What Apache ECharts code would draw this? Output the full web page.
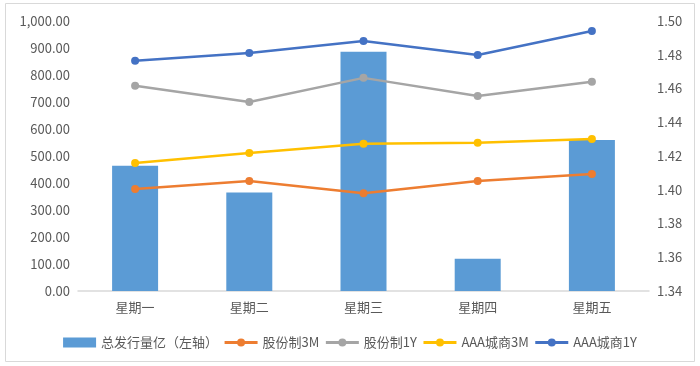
<!DOCTYPE html>
<html>
<head>
    <meta charset="utf-8">
    <script src="https://cdn.jsdelivr.net/npm/echarts@6/dist/echarts.min.js"></script>
    <style>
        html, body { margin: 0; padding: 0; background: #fff; }
    </style>
</head>
<body>

<div id="main" style="width: 700px;height:366px;"></div>

<script type="text/javascript">
var days = ['星期一', '星期二', '星期三', '星期四', '星期五'];
var totalIssue = [464, 365, 886, 119, 559];
var gufen3M = [1.4005, 1.4052, 1.3979, 1.4052, 1.4094];
var gufen1Y = [1.4616, 1.4520, 1.4663, 1.4556, 1.4640];
var aaa3M = [1.4159, 1.4218, 1.4272, 1.4278, 1.4301];
var aaa1Y = [1.4764, 1.4811, 1.4882, 1.4799, 1.4941];

var fontFam = '"Noto Sans CJK SC", "Liberation Sans", sans-serif';

function lineSeries(name, data, color) {
    return {
        name: name,
        type: 'line',
        yAxisIndex: 1,
        data: data,
        symbol: 'circle',
        symbolSize: 8,
        lineStyle: { color: color, width: 2.5 },
        itemStyle: { color: color },
        animation: false
    };
}

var myChart = echarts.init(document.getElementById('main'));
myChart.setOption({
    textStyle: { fontFamily: fontFam },
    graphic: [{
        type: 'rect',
        shape: { x: 5.5, y: 3.5, width: 689, height: 358 },
        style: { fill: 'none', stroke: '#d9d9d9', lineWidth: 1 },
        silent: true
    }],
    grid: { left: 78, right: 51, top: 21, bottom: 75 },
    legend: {
        top: 331,
        left: 'center',
        itemGap: 5,
        itemWidth: 33,
        itemHeight: 10,
        lineStyle: { width: 3 },
        textStyle: { color: '#595959', fontSize: 13, fontFamily: fontFam },
        data: [
            { name: '总发行量亿（左轴）', icon: 'rect', itemStyle: { borderWidth: 0 } },
            '股份制3M', '股份制1Y', 'AAA城商3M', 'AAA城商1Y'
        ]
    },
    xAxis: {
        type: 'category',
        data: days,
        axisLine: { lineStyle: { color: '#d9d9d9', width: 1.5 } },
        axisTick: { show: false },
        axisLabel: { color: '#595959', fontSize: 13, margin: 10 }
    },
    yAxis: [{
        type: 'value',
        min: 0,
        max: 1000,
        interval: 100,
        splitLine: { show: false },
        axisLine: { show: false },
        axisTick: { show: false },
        axisLabel: {
            color: '#595959',
            fontSize: 13,
            margin: 8,
            formatter: function (v) {
                return v.toLocaleString('en-US', { minimumFractionDigits: 2, maximumFractionDigits: 2 });
            }
        }
    }, {
        type: 'value',
        min: 1.34,
        max: 1.50,
        interval: 0.02,
        splitLine: { show: false },
        axisLine: { show: false },
        axisTick: { show: false },
        axisLabel: {
            color: '#595959',
            fontSize: 13,
            margin: 8,
            formatter: function (v) { return v.toFixed(2); }
        }
    }],
    series: [
        {
            name: '总发行量亿（左轴）',
            type: 'bar',
            data: totalIssue,
            barWidth: 46,
            itemStyle: { color: '#5b9bd5' },
            animation: false
        },
        lineSeries('股份制3M', gufen3M, '#ed7d31'),
        lineSeries('股份制1Y', gufen1Y, '#a5a5a5'),
        lineSeries('AAA城商3M', aaa3M, '#ffc000'),
        lineSeries('AAA城商1Y', aaa1Y, '#4472c4')
    ]
});
</script>

</body>
</html>
